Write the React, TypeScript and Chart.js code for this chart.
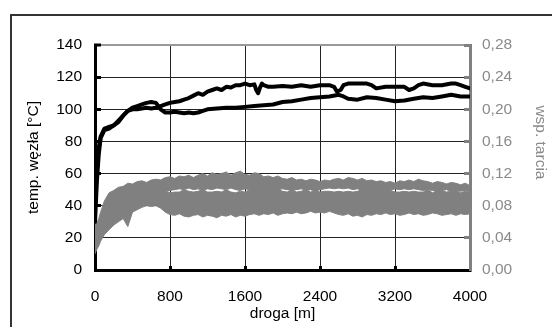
import React, { useEffect, useRef } from "react";
import { Chart, registerables } from "chart.js";

Chart.register(...registerables);

// ---- data ----
const xTicks = [0, 800, 1600, 2400, 3200, 4000];

const grayDist = [0, 20, 40, 60, 80, 100, 150, 200, 250, 300, 350, 400, 450, 500, 550, 600, 650, 700, 750, 800, 850, 900, 950, 1000, 1050, 1100, 1150, 1200, 1250, 1300, 1350, 1400, 1450, 1500, 1550, 1600, 1650, 1700, 1750, 1800, 1850, 1900, 1950, 2000, 2050, 2100, 2150, 2200, 2250, 2300, 2350, 2400, 2450, 2500, 2550, 2600, 2650, 2700, 2750, 2800, 2850, 2900, 2950, 3000, 3050, 3100, 3150, 3200, 3250, 3300, 3350, 3400, 3450, 3500, 3550, 3600, 3650, 3700, 3750, 3800, 3850, 3900, 3950, 4000];

// friction series 1 (upper band): top and bottom of its noise
const fric1Hi = [
  0.066, 0.058, 0.064, 0.072, 0.079, 0.086, 0.096, 0.099, 0.103, 0.104,
  0.108, 0.107, 0.11, 0.111, 0.109, 0.112, 0.113, 0.112, 0.115, 0.116,
  0.114, 0.117, 0.116, 0.118, 0.115, 0.118, 0.12, 0.117, 0.121, 0.119,
  0.12, 0.122, 0.118, 0.121, 0.123, 0.119, 0.118, 0.121, 0.12, 0.116,
  0.117, 0.115, 0.117, 0.114, 0.113, 0.115, 0.112, 0.113, 0.111, 0.113,
  0.112, 0.11, 0.112, 0.111, 0.113, 0.114, 0.112, 0.115, 0.114, 0.112,
  0.114, 0.111, 0.112, 0.11, 0.111, 0.109, 0.11, 0.108, 0.111, 0.11,
  0.112, 0.11, 0.113, 0.111, 0.11, 0.108, 0.11, 0.109, 0.107, 0.109,
  0.108, 0.106, 0.108, 0.105,
];
const fric1Lo = [
  0.03, 0.032, 0.04, 0.05, 0.055, 0.06, 0.07, 0.076, 0.08, 0.084,
  0.086, 0.088, 0.09, 0.09, 0.092, 0.093, 0.094, 0.095, 0.097, 0.099,
  0.1, 0.101, 0.1, 0.102, 0.1, 0.101, 0.099, 0.101, 0.1, 0.102,
  0.101, 0.1, 0.102, 0.1, 0.099, 0.101, 0.1, 0.098, 0.099, 0.101,
  0.1, 0.099, 0.1, 0.101, 0.1, 0.099, 0.1, 0.101, 0.099, 0.1,
  0.098, 0.1, 0.101, 0.102, 0.101, 0.102, 0.101, 0.102, 0.1, 0.101,
  0.099, 0.1, 0.098, 0.099, 0.098, 0.1, 0.099, 0.101, 0.1, 0.101,
  0.1, 0.101, 0.1, 0.099, 0.1, 0.099, 0.098, 0.099, 0.1, 0.098,
  0.099, 0.098, 0.099, 0.098,
];
// friction series 2 (lower band)
const fric2Hi = [
  0.05, 0.046, 0.055, 0.062, 0.068, 0.074, 0.084, 0.088, 0.09, 0.094,
  0.096, 0.098, 0.099, 0.1, 0.1, 0.099, 0.098, 0.097, 0.097, 0.096,
  0.097, 0.097, 0.1, 0.098, 0.097, 0.098, 0.1, 0.097, 0.097, 0.098,
  0.097, 0.1, 0.097, 0.096, 0.098, 0.097, 0.1, 0.099, 0.1, 0.101,
  0.1, 0.1, 0.101, 0.098, 0.097, 0.1, 0.097, 0.098, 0.1, 0.097,
  0.099, 0.097, 0.098, 0.098, 0.097, 0.098, 0.097, 0.098, 0.097, 0.098,
  0.1, 0.1, 0.099, 0.1, 0.098, 0.1, 0.099, 0.097, 0.097, 0.098,
  0.097, 0.098, 0.097, 0.097, 0.1, 0.096, 0.099, 0.099, 0.097, 0.098,
  0.099, 0.096, 0.098, 0.097,
];
const fric2Lo = [
  0.02, 0.026, 0.03, 0.036, 0.04, 0.044, 0.05, 0.056, 0.06, 0.064,
  0.054, 0.072, 0.075, 0.078, 0.08, 0.079, 0.08, 0.077, 0.072, 0.069,
  0.068, 0.07, 0.067, 0.066, 0.068, 0.069, 0.066, 0.068, 0.067, 0.065,
  0.068, 0.067, 0.069, 0.066, 0.068, 0.067, 0.069, 0.07, 0.068, 0.07,
  0.069, 0.071, 0.068, 0.07, 0.071, 0.07, 0.072, 0.07, 0.071, 0.073,
  0.071, 0.072, 0.071, 0.073, 0.071, 0.069, 0.068, 0.07, 0.067, 0.068,
  0.066, 0.069, 0.068, 0.07, 0.069, 0.071, 0.069, 0.07, 0.068, 0.069,
  0.071, 0.069, 0.07, 0.068, 0.069, 0.071, 0.07, 0.068, 0.069, 0.07,
  0.068, 0.07, 0.069, 0.07,
];

const tempADist = [0, 20, 40, 60, 100, 150, 200, 250, 300, 350, 400, 450, 500, 550, 600, 650, 700, 750, 800, 850, 900, 950, 1000, 1050, 1100, 1150, 1200, 1300, 1400, 1500, 1600, 1700, 1800, 1900, 2000, 2100, 2200, 2300, 2400, 2500, 2600, 2650, 2700, 2800, 2900, 3000, 3100, 3200, 3300, 3400, 3500, 3600, 3700, 3800, 3900, 4000];
const tempA = [30, 55, 72, 82, 87, 88, 90, 93, 96, 99, 101, 102, 103, 104, 104.5, 104, 100, 98, 98, 98.5, 98, 97.5, 98, 97.5, 98, 99, 100, 100.5, 101, 101, 101.5, 102, 102.5, 103, 104.5, 105, 106, 107, 107.5, 108, 109, 108, 106.5, 106, 107.5, 107, 106, 105, 105.5, 106.5, 107.5, 107, 108, 109, 108, 108];

const tempBDist = [0, 20, 40, 60, 100, 150, 200, 250, 300, 350, 400, 450, 500, 550, 600, 650, 700, 750, 800, 850, 900, 950, 1000, 1050, 1100, 1150, 1200, 1250, 1300, 1350, 1400, 1450, 1500, 1550, 1600, 1650, 1700, 1720, 1740, 1760, 1780, 1800, 1850, 1900, 2000, 2100, 2200, 2300, 2400, 2500, 2550, 2580, 2620, 2650, 2700, 2800, 2900, 2950, 3000, 3100, 3200, 3300, 3350, 3400, 3450, 3500, 3600, 3700, 3800, 3850, 3900, 3950, 4000];
const tempB = [40, 62, 76, 83, 88, 89, 90, 92, 96, 99, 100, 100, 100.5, 101, 100.5, 101, 102, 103, 104, 104.5, 105, 106, 107, 108.5, 110, 109, 111, 112, 113, 112, 114, 113.5, 115, 115, 116, 115, 115.5, 112, 110, 113.5, 116, 115, 114, 114, 114.5, 114, 115, 114, 115, 115, 114, 111, 112, 115, 116, 116, 116, 115, 113, 114, 114, 114, 112, 113, 115, 116, 115, 115, 116, 116, 115, 114, 113];

const FONT = "'Liberation Sans', Arial, sans-serif";
const FS = 15.5;
const GRAY = "#808080";

function pts(xs: number[], ys: number[]) {
  return xs.map((x, i) => ({ x, y: ys[i] }));
}

export default function App() {
  const ref = useRef<HTMLCanvasElement | null>(null);

  useEffect(() => {
    if (!ref.current) return;
    const grayBase = {
      yAxisID: "y2",
      borderColor: GRAY,
      backgroundColor: GRAY,
      borderWidth: 1,
      pointRadius: 0,
      tension: 0,
      order: 2,
    };
    const blackBase = {
      yAxisID: "y",
      borderColor: "#000",
      borderWidth: 4,
      pointRadius: 0,
      tension: 0,
      fill: false,
      borderJoinStyle: "round",
      borderCapStyle: "round",
      order: 0,
    };
    const chart = new Chart(ref.current, {
      type: "line",
      data: {
        datasets: [
          { ...grayBase, label: "f1 hi", data: pts(grayDist, fric1Hi), fill: false },
          { ...grayBase, label: "f1 lo", data: pts(grayDist, fric1Lo), fill: "-1" },
          { ...grayBase, label: "f2 hi", data: pts(grayDist, fric2Hi), fill: false },
          { ...grayBase, label: "f2 lo", data: pts(grayDist, fric2Lo), fill: "-1" },
          { ...blackBase, label: "temp A", data: pts(tempADist, tempA) },
          { ...blackBase, label: "temp B", data: pts(tempBDist, tempB) },
        ],
      },
      options: {
        responsive: false,
        animation: false,
        layout: { padding: { top: 45, left: 0, right: 0, bottom: 0 } },
        plugins: { legend: { display: false }, tooltip: { enabled: false } },
        scales: {
          x: {
            type: "linear",
            min: 0,
            max: 4000,
            afterBuildTicks: (s: any) => {
              s.ticks = xTicks.map((v) => ({ value: v }));
            },
            afterFit: (s: any) => {
              s.height = 57;
            },
            ticks: {
              color: "#000",
              font: { family: FONT, size: FS },
              padding: 21,
              maxRotation: 0,
              callback: (v: any) => String(v),
            },
            grid: {
              color: (c: any) =>
                c.tick && (c.tick.value === 0 || c.tick.value === 4000) ? "rgba(0,0,0,0)" : "#222",
              lineWidth: 1,
              drawTicks: true,
              tickLength: -4,
              tickWidth: 3,
              tickColor: (c: any) =>
                c.tick && c.tick.value === 4000 ? "rgba(0,0,0,0)" : "#000",
            },
            border: { color: "#000", width: 3 },
            title: {
              display: true,
              text: "droga [m]",
              color: "#000",
              font: { family: FONT, size: FS },
              padding: { top: 0, bottom: 3.5 },
            },
          },
          y: {
            type: "linear",
            position: "left",
            min: 0,
            max: 140,
            ticks: {
              stepSize: 20,
              color: "#000",
              font: { family: FONT, size: FS },
              padding: 19,
            },
            afterFit: (s: any) => {
              s.width = 95;
            },
            grid: {
              color: (c: any) => (c.tick && c.tick.value === 140 ? "#999" : "#222"),
              lineWidth: (c: any) => (c.tick && c.tick.value === 140 ? 2 : 1),
              drawTicks: true,
              tickLength: -6,
              tickWidth: 3,
              tickColor: "#000",
            },
            border: { color: "#000", width: 3 },
            title: {
              display: true,
              text: "temp. węzła [°C]",
              color: "#000",
              font: { family: FONT, size: FS },
              padding: { top: 24, bottom: 0 },
            },
          },
          y2: {
            type: "linear",
            position: "right",
            min: 0,
            max: 0.28,
            ticks: {
              stepSize: 0.04,
              color: "#8a8a8a",
              font: { family: FONT, size: FS },
              padding: 18,
              callback: (v: any) => Number(v).toFixed(2).replace(".", ","),
            },
            afterFit: (s: any) => {
              s.width = 82;
            },
            grid: {
              drawOnChartArea: false,
              drawTicks: true,
              tickLength: -6,
              tickWidth: 3,
              tickColor: GRAY,
              color: GRAY,
            },
            border: { color: GRAY, width: 3 },
            title: {
              display: true,
              text: "wsp. tarcia\u00a0\u00a0\u00a0\u00a0\u00a0\u00a0\u00a0",
              color: "#8a8a8a",
              font: { family: FONT, size: FS },
              padding: { top: 2.7, bottom: 0 },
            },
          },
        },
      },
    } as any);
    return () => chart.destroy();
  }, []);

  return (
    <div
      style={{
        position: "absolute",
        left: 0,
        top: 0,
        width: 552,
        height: 327,
        overflow: "hidden",
        background: "#fff",
      }}
    >
      <div
        style={{
          position: "absolute",
          left: 10,
          top: 14,
          width: 600,
          height: 400,
          borderTop: "2px solid #333",
          borderLeft: "2px solid #333",
          boxSizing: "border-box",
        }}
      />
      <canvas
        ref={ref}
        width={552}
        height={327}
        style={{ position: "absolute", left: 0, top: 0, display: "block" }}
      />
    </div>
  );
}
